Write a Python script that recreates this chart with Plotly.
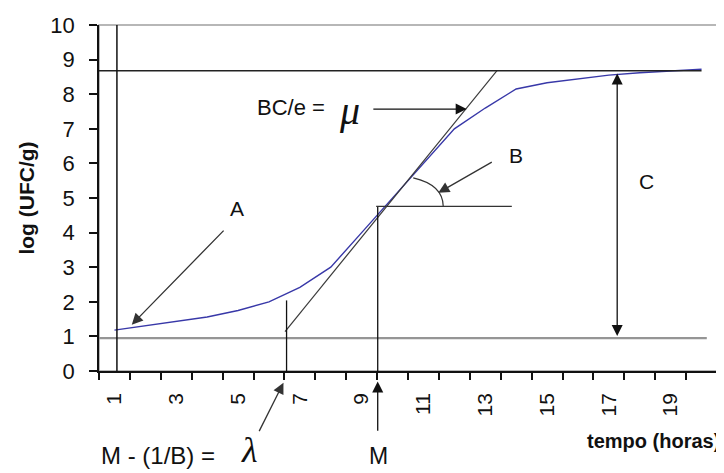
import plotly.graph_objects as go

# ---- data ----
categories = list(range(1, 21))
log_ufc = [1.18, 1.3, 1.42, 1.56, 1.75, 2.0, 2.42, 3.0, 4.0, 5.0,
           6.0, 7.0, 7.6, 8.15, 8.33, 8.45, 8.55, 8.62, 8.67, 8.72]
x_tick_vals = [1, 3, 5, 7, 9, 11, 13, 15, 17, 19]
x_tick_text = [str(v) for v in x_tick_vals]
y_tick_vals = list(range(0, 11))
boundary_ticks = [i + 0.5 for i in range(0, 21)]

# construction lines
tangent_x = [6.52, 13.38]
tangent_y = [1.14, 8.68]
upper_asymptote = 8.68
lower_asymptote = 0.95
lambda_x = 6.57
m_x = 9.52
m_y = 4.76
start_x = 1.08

FONT = "Liberation Sans, Arial, sans-serif"
SERIF = "Liberation Serif, Times New Roman, serif"

# the page body has an 8px margin, so the figure is drawn 8px in
W, H = 716, 465
ML, MR, MT, MB = 91, 7, 17, 102
XR = [0.5, 20.5]
YR = [0, 10]
PW = W - ML - MR
PH = H - MT - MB
PX_PER_X = PW / (XR[1] - XR[0])
PX_PER_Y = PH / (YR[1] - YR[0])


def to_paper(x, y):
    return (x - XR[0]) / (XR[1] - XR[0]), (y - YR[0]) / (YR[1] - YR[0])


fig = go.Figure()

fig.add_trace(go.Scatter(x=categories, y=log_ufc, mode="lines",
                         line=dict(color="#3838a8", width=1.4),
                         hoverinfo="skip", showlegend=False))
fig.add_trace(go.Scatter(x=tangent_x, y=tangent_y, mode="lines",
                         line=dict(color="#3a3a3a", width=1.2),
                         hoverinfo="skip", showlegend=False))
fig.add_trace(go.Scatter(x=[categories[0]], y=[0], xaxis="x2", mode="markers",
                         marker=dict(opacity=0), hoverinfo="skip", showlegend=False))

shapes = [
    dict(type="rect", xref="paper", yref="paper", x0=0, x1=1, y0=0, y1=1,
         line=dict(color="#a0a0a0", width=1.5), layer="below"),
    dict(type="line", xref="x", yref="y", x0=0.5, x1=20.0,
         y0=upper_asymptote, y1=upper_asymptote, line=dict(color="#222", width=1.5)),
    dict(type="line", xref="x", yref="y", x0=0.5, x1=20.17,
         y0=lower_asymptote, y1=lower_asymptote, line=dict(color="#959595", width=2.2)),
    dict(type="line", xref="x", yref="y", x0=start_x, x1=start_x, y0=-0.25, y1=10,
         line=dict(color="#111", width=1.5)),
    dict(type="line", xref="x", yref="y", x0=lambda_x, x1=lambda_x, y0=0, y1=2.04,
         line=dict(color="#111", width=1.3)),
    dict(type="line", xref="x", yref="y", x0=m_x, x1=m_x, y0=0, y1=m_y,
         line=dict(color="#111", width=1.3)),
    dict(type="line", xref="x", yref="y", x0=m_x - 0.05, x1=13.86, y0=m_y, y1=m_y,
         line=dict(color="#333", width=1.2)),
    dict(type="path", xref="x", yref="y",
         path="M 10.67 5.58 Q 11.63 5.38 11.64 4.76",
         line=dict(color="#333", width=1.2)),
]

ann = []


def arrow(x, y, ax, ay, color="#111", width=1.3, side="end", size=1.7):
    px, py = to_paper(x, y)
    ann.append(dict(x=px, y=py, xref="paper", yref="paper",
                    ax=(ax - x) * PX_PER_X, ay=-(ay - y) * PX_PER_Y,
                    axref="pixel", ayref="pixel",
                    showarrow=True, arrowhead=2, arrowsize=size, arrowwidth=width,
                    arrowcolor=color, arrowside=side, text="", standoff=0, startstandoff=0))


def label(x, y, text, size=21, family=FONT, xanchor="center", color="#111"):
    px, py = to_paper(x, y)
    ann.append(dict(x=px, y=py, xref="paper", yref="paper", text=text, showarrow=False,
                    font=dict(family=family, size=size, color=color), xanchor=xanchor,
                    yanchor="middle"))


arrow(1.56, 1.34, 4.58, 4.10, color="#333")                      # A
arrow(11.48, 5.15, 13.26, 6.06, color="#333")                    # B
arrow(12.40, 7.57, 9.33, 7.57, color="#111")                     # mu
arrow(17.27, 8.60, 17.27, 0.97, color="#111", side="end+start")  # C
arrow(6.47, -0.34, 5.66, -1.78, color="#333")                    # lambda
arrow(m_x, -0.30, m_x, -1.77, color="#111")                      # M

label(4.96, 4.71, "A")
label(13.99, 6.22, "B")
label(18.23, 5.48, "C")
label(7.88, 7.63, "BC/e =", size=22, xanchor="right")
label(8.62, 7.52, "<i>μ</i>", size=40, family=SERIF)
label(2.40, -2.44, "M - (1/B) =", size=24)
label(5.38, -2.28, "<i>λ</i>", size=36, family=SERIF)
label(9.56, -2.47, "M", size=23)

ann.append(dict(x=1.0085, y=-0.201, xref="paper", yref="paper", text="<b>tempo (horas)</b>",
                showarrow=False, xanchor="right", yanchor="middle",
                font=dict(family=FONT, size=20, color="#111")))

fig.update_layout(
    width=W, height=H,
    margin=dict(l=ML, r=MR, t=MT, b=MB, autoexpand=False),
    paper_bgcolor="white", plot_bgcolor="white",
    showlegend=False,
    shapes=shapes, annotations=ann,
    xaxis=dict(range=XR, tickvals=x_tick_vals, ticktext=x_tick_text,
               tickangle=-90, ticks="", showgrid=False, zeroline=False,
               showline=True, linecolor="#111", linewidth=1.5,
               tickfont=dict(family=FONT, size=21, color="#111"),
               ticklabelstandoff=12, automargin=False),
    xaxis2=dict(range=XR, overlaying="x", matches="x", anchor="y", side="bottom",
                tickvals=boundary_ticks, ticks="outside", ticklen=8, tickwidth=1.5,
                tickcolor="#111", showticklabels=False, showgrid=False, zeroline=False,
                showline=False),
    yaxis=dict(range=YR, tickvals=y_tick_vals, ticks="outside", ticklen=8,
               tickwidth=1.5, tickcolor="#111", showgrid=False, zeroline=False,
               showline=True, linecolor="#111", linewidth=1.5,
               tickfont=dict(family=FONT, size=22, color="#111"),
               ticklabelstandoff=10, automargin=False,
               title=dict(text="<b>log (UFC/g)</b>", standoff=10,
                          font=dict(family=FONT, size=21, color="#111"))),
)

fig.write_html("out.html")
